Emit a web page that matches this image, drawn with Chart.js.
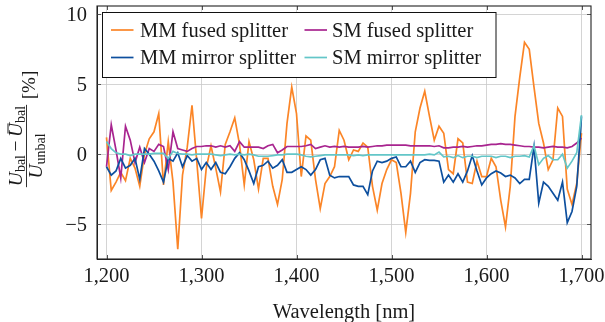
<!DOCTYPE html>
<html>
<head>
<meta charset="utf-8">
<script src="https://cdn.jsdelivr.net/npm/chart.js@4.4.0/dist/chart.umd.min.js"></script>
<style>
  html, body { margin: 0; padding: 0; background: #fff; }
  #chart { display: block; }
</style>
</head>
<body>
<canvas id="chart" width="605" height="322" style="width:605px;height:322px"></canvas>
<script>
const wavelengths = [
  1200, 1205, 1210, 1215, 1220, 1225, 1230, 1235, 1240, 1245,
  1250, 1255, 1260, 1265, 1270, 1275, 1280, 1285, 1290, 1295,
  1300, 1305, 1310, 1315, 1320, 1325, 1330, 1335, 1340, 1345,
  1350, 1355, 1360, 1365, 1370, 1375, 1380, 1385, 1390, 1395,
  1400, 1405, 1410, 1415, 1420, 1425, 1430, 1435, 1440, 1445,
  1450, 1455, 1460, 1465, 1470, 1475, 1480, 1485, 1490, 1495,
  1500, 1505, 1510, 1515, 1520, 1525, 1530, 1535, 1540, 1545,
  1550, 1555, 1560, 1565, 1570, 1575, 1580, 1585, 1590, 1595,
  1600, 1605, 1610, 1615, 1620, 1625, 1630, 1635, 1640, 1645,
  1650, 1655, 1660, 1665, 1670, 1675, 1680, 1685, 1690, 1695,
  1700
];

const mmFused = [
  1.2, -2.6, -2.0, -1.3, -1.9, -0.3, -1.0, -2.3, 0.0, 1.1,
  1.6, 2.9, -2.2, 0.9, -2.0, -6.8, -1.5, 0.5, 3.5, -0.5,
  -4.6, -1.0, 0.6, -1.0, -2.7, 0.7, 1.6, 2.6, 0.7, -2.2,
  0.9, -0.4, -2.5, -0.3, -0.3, -2.3, -3.6, -1.8, 2.2, 4.8,
  2.9, -1.6, 1.3, 1.0, -1.8, -3.9, -2.1, -1.6, -0.9, 1.7,
  1.0, -0.4, 0.3, 0.2, 0.8, 0.5, -2.3, -4.0, -2.1, -1.1,
  -0.4, -0.6, -2.8, -5.6, -2.8, 1.6, 3.3, 4.5, 2.7, 1.0,
  2.0, 1.5, -1.1, -1.4, 1.1, 0.8, -2.0, -2.1, -0.5, -1.6,
  -1.6, -0.3, -0.9, -3.3, -5.2, -2.3, 2.7, 5.5, 8.0, 7.5,
  4.8, 2.2, 0.8, -1.1, -0.4, 3.3, 2.7, -2.5, -3.6, -2.1,
  1.5
];

const smFused = [
  -0.9, 2.1, 0.3, -1.7, 2.0, 1.0, -0.6, 0.5, -0.6, 0.4,
  0.2, 0.7, 0.55, -1.1, 1.6, 0.4, 0.3, 0.2, 0.4, 0.55,
  0.55, 0.6, 0.6, 0.5, 0.6, 0.5, 0.6, 0.2, 0.9, 0.5,
  0.5, 0.5, 0.5, 0.4, 0.6, 0.7, 0.1, 0.3, 0.55, 0.55,
  0.55, 0.55, 0.6, 0.7, 0.4, 0.5, 0.6, 0.5, 0.55, 0.5,
  0.55, 0.5, 0.5, 0.5, 0.55, 0.5, 0.55, 0.6, 0.6, 0.65,
  0.65, 0.65, 0.65, 0.65, 0.6, 0.6, 0.6, 0.6, 0.6, 0.55,
  0.6, 0.45, 0.45, 0.5, 0.5, 0.55, 0.5, 0.55, 0.6, 0.6,
  0.65, 0.7, 0.7, 0.75, 0.7, 0.7, 0.65, 0.6, 0.55, 0.55,
  0.5, 0.5, 0.45, 0.5, 0.55, 0.5, 0.5, 0.45, 0.55, 0.8,
  1.15
];

const mmMirror = [
  -0.9, -1.5, -1.2, -0.3, -1.0, -0.8, -0.3, -1.8, 0.4, 0.0,
  -0.5, -1.2, -2.0, -0.3, -0.5, 0.1, -0.9, -0.1, -0.5, -0.3,
  -1.1, -0.6, -1.1, -0.6, -1.3, -1.4, -0.9, -0.3, 0.1, -0.4,
  -1.2, -2.1, -0.9, -0.8, -0.5, -1.0, -0.8, -0.4, -1.3, -1.3,
  -1.1, -0.9, -1.1, -1.5, -1.1, -0.4, -0.3, -1.5, -1.7, -1.6,
  -1.6, -1.6, -2.2, -2.3, -2.3, -2.9, -1.2, -0.5, -0.6, -0.5,
  -0.3, -0.2, -0.9, -0.9, -0.5, -1.3, -0.6, -0.4, -0.45, -0.45,
  -0.5, -2.0, -1.5, -2.0, -1.4, -2.0, -1.2, -0.1, -1.2, -2.2,
  -1.7, -1.4, -1.2, -1.35, -1.6, -1.5, -1.7, -2.1, -1.8, -1.8,
  0.55, -3.5, -2.0, -2.3, -2.8, -3.3, -2.0, -4.9, -4.1, -2.3,
  2.7
];

const smMirror = [
  0.9, 0.4, 0.1, 0.0, 0.0, -0.1, 0.0, 0.0, 0.0, 0.0,
  0.05, 0.05, 0.05, -0.3, 0.2, 0.05, 0.0, 0.0, -0.05, 0.0,
  0.0, 0.0, 0.0, -0.05, -0.1, -0.05, 0.0, -0.05, 0.0, -0.05,
  0.0, -0.05, -0.15, -0.15, -0.15, -0.1, -0.05, -0.05, 0.0, 0.0,
  0.0, -0.05, -0.15, -0.2, -0.15, -0.1, -0.05, -0.05, -0.05, -0.05,
  -0.05, -0.05, -0.1, -0.05, -0.1, -0.05, -0.05, -0.05, -0.05, -0.05,
  -0.05, -0.05, -0.05, -0.05, -0.05, -0.05, -0.05, -0.05, 0.0, -0.05,
  0.15, -0.2, -0.15, -0.25, -0.1, -0.25, -0.15, -0.15, -0.25, -0.15,
  -0.15, -0.15, -0.25, -0.15, -0.15, -0.25, -0.15, -0.15, -0.1, -0.2,
  0.6, -0.75, -0.3, -0.1, -0.4, -0.4, 0.0, -1.0, -0.5, 0.1,
  2.8
];

const xTicks = [1200, 1300, 1400, 1500, 1600, 1700];
const yTicks = [-5, 0, 5, 10];

const serif = '"Liberation Serif", "Times New Roman", serif';
const ink = '#1a1a1a';

function toPoints(values) {
  return values.map((v, i) => ({ x: wavelengths[i], y: v }));
}

function series(label, values, color, order) {
  return {
    label: label,
    data: toPoints(values),
    borderColor: color,
    backgroundColor: color,
    borderWidth: 1.7,
    pointRadius: 0,
    tension: 0,
    fill: false,
    order: order,
  };
}

// draws pieces of text (with optional sub/overline) in a row, centred at cx
function drawRun(ctx, pieces, cx, baseY) {
  let total = 0;
  for (const p of pieces) {
    ctx.font = p.font;
    p.w = ctx.measureText(p.text).width + (p.gap || 0) * 2;
    total += p.w;
  }
  let x = cx - total / 2;
  for (const p of pieces) {
    ctx.font = p.font;
    ctx.fillText(p.text, x + (p.gap || 0), baseY + (p.dy || 0));
    if (p.over) {
      ctx.beginPath();
      ctx.lineWidth = 1;
      ctx.moveTo(x + 3.5, baseY - 14);
      ctx.lineTo(x + p.w - 0.5, baseY - 14);
      ctx.stroke();
    }
    x += p.w;
  }
  return total;
}

const frame = {
  id: 'frame',
  afterDraw(chart) {
    const ctx = chart.ctx;
    const a = chart.chartArea;
    ctx.save();

    // inner tick marks
    ctx.strokeStyle = '#555';
    ctx.lineWidth = 1;
    const xs = chart.scales.x, ys = chart.scales.y;
    for (const v of xTicks) {
      const px = Math.round(xs.getPixelForValue(v)) + 0.5;
      ctx.beginPath();
      ctx.moveTo(px, a.bottom); ctx.lineTo(px, a.bottom - 4);
      ctx.moveTo(px, a.top); ctx.lineTo(px, a.top + 4);
      ctx.stroke();
    }
    for (const v of yTicks) {
      const py = Math.round(ys.getPixelForValue(v)) + 0.5;
      ctx.beginPath();
      ctx.moveTo(a.left, py); ctx.lineTo(a.left + 4, py);
      ctx.moveTo(a.right, py); ctx.lineTo(a.right - 4, py);
      ctx.stroke();
    }

    // axis box
    ctx.strokeStyle = '#222';
    ctx.lineWidth = 1.1;
    ctx.strokeRect(a.left, a.top, a.right - a.left, a.bottom - a.top);

    // legend
    const lx = 102.5, ly = 12.5, lw = 393.5, lh = 65;
    ctx.fillStyle = '#fff';
    ctx.fillRect(lx, ly, lw, lh);
    ctx.strokeStyle = '#111';
    ctx.lineWidth = 1;
    ctx.strokeRect(lx, ly, lw, lh);
    const cols = [{ line: 111, text: 140 }, { line: 304.5, text: 332 }];
    const rows = [30, 57.5];
    const ds = chart.data.datasets;
    ctx.font = '20.5px ' + serif;
    ctx.textAlign = 'left';
    ctx.textBaseline = 'alphabetic';
    ds.forEach((d, i) => {
      const c = cols[i % 2], r = rows[Math.floor(i / 2)];
      ctx.strokeStyle = d.borderColor;
      ctx.lineWidth = 1.7;
      ctx.beginPath();
      ctx.moveTo(c.line, r); ctx.lineTo(c.line + 22.5, r);
      ctx.stroke();
      ctx.fillStyle = ink;
      ctx.fillText(d.label, c.text, r + 6.5);
    });

    // x axis title
    ctx.fillStyle = ink;
    ctx.font = '20.5px ' + serif;
    ctx.textAlign = 'center';
    ctx.fillText('Wavelength [nm]', (a.left + a.right) / 2, 317.5);

    // y axis title, a rotated fraction
    ctx.translate(26.5, 146);
    ctx.rotate(-Math.PI / 2);
    ctx.textAlign = 'left';
    ctx.strokeStyle = ink;
    const big = 'italic 19.5px ' + serif;
    const sub = '14px ' + serif;
    const num = drawRun(ctx, [
      { text: 'U', font: big },
      { text: 'bal', font: sub, dy: 3 },
      { text: '\u2212', font: '19.5px ' + serif, gap: 3.5 },
      { text: 'U', font: big, over: true },
      { text: 'bal', font: sub, dy: 3 },
    ], 0, -4.5);
    drawRun(ctx, [
      { text: 'U', font: big },
      { text: 'unbal', font: sub, dy: 3 },
    ], -10, 15.5);
    ctx.beginPath();
    ctx.lineWidth = 0.9;
    ctx.moveTo(-num / 2 - 1, 0);
    ctx.lineTo(num / 2 + 1, 0);
    ctx.stroke();
    ctx.font = '19px ' + serif;
    ctx.textAlign = 'center';
    ctx.fillText('[%]', 61, 8);

    ctx.restore();
  },
};

new Chart(document.getElementById('chart'), {
  type: 'line',
  data: {
    datasets: [
      series('MM fused splitter', mmFused, '#fb8527', 3),
      series('SM fused splitter', smFused, '#a8248f', 2),
      series('MM mirror splitter', mmMirror, '#0d4f9e', 1),
      series('SM mirror splitter', smMirror, '#63c6c8', 0),
    ],
  },
  options: {
    responsive: false,
    animation: false,
    events: [],
    layout: { padding: { top: 6, right: 14, left: 0, bottom: 0 } },
    plugins: { legend: { display: false }, tooltip: { enabled: false } },
    scales: {
      x: {
        type: 'linear',
        min: 1190,
        max: 1710,
        afterBuildTicks: (s) => { s.ticks = xTicks.map((v) => ({ value: v })); },
        afterFit: (s) => { s.height = 63; s.paddingLeft = 0; s.paddingRight = 0; },
        ticks: {
          callback: (v) => v.toLocaleString('en-US'),
          font: { family: serif, size: 20.5 },
          color: ink,
          padding: 5.5,
          maxRotation: 0,
          autoSkip: false,
        },
        grid: { color: '#c9c9c9', lineWidth: 0.8, drawTicks: false },
        border: { color: '#222', width: 1 },
      },
      y: {
        min: -7.5,
        max: 10.6,
        afterBuildTicks: (s) => { s.ticks = yTicks.map((v) => ({ value: v })); },
        afterFit: (s) => { s.width = 97; s.paddingTop = 0; s.paddingBottom = 0; },
        ticks: {
          callback: (v) => (v < 0 ? '\u2212' + Math.abs(v) : String(v)),
          font: { family: serif, size: 20.5 },
          color: ink,
          padding: 10,
          labelOffset: 1.5,
        },
        grid: { color: '#c9c9c9', lineWidth: 0.8, drawTicks: false },
        border: { color: '#222', width: 1 },
      },
    },
  },
  plugins: [frame],
});
</script>
</body>
</html>
